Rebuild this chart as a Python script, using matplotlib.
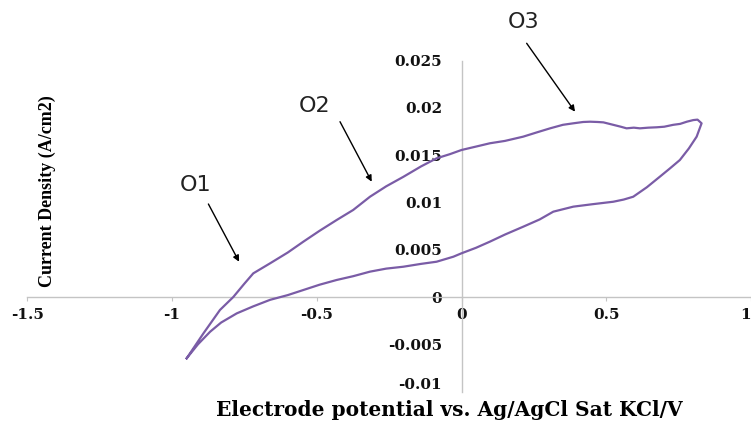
import matplotlib
matplotlib.use("Agg")
import matplotlib.pyplot as plt
import numpy as np

# forward (anodic) sweep, from the negative tip up to the turning point
fwd_x = [-0.949, -0.891, -0.834, -0.788, -0.75, -0.719, -0.661, -0.60, -0.546, -0.49,
         -0.431, -0.374, -0.316, -0.26, -0.201, -0.14, -0.086, -0.04, 0.0, 0.05,
         0.098, 0.15, 0.213, 0.26, 0.306, 0.35, 0.386, 0.42, 0.444, 0.47,
         0.490, 0.524, 0.55, 0.570, 0.595, 0.616, 0.645, 0.674, 0.70, 0.731,
         0.755, 0.778, 0.800, 0.815, 0.829]
fwd_y = [-0.00648, -0.00384, -0.00137, 0.0, 0.0014, 0.0025, 0.00356, 0.0047, 0.00585, 0.0070,
         0.00814, 0.0092, 0.0106, 0.0117, 0.0127, 0.0138, 0.01466, 0.0151, 0.01554, 0.0159,
         0.01625, 0.0165, 0.01695, 0.0174, 0.01783, 0.0182, 0.01836, 0.0185, 0.01853, 0.0185,
         0.01846, 0.0182, 0.0180, 0.01783, 0.0179, 0.01783, 0.0179, 0.01794, 0.0180, 0.0182,
         0.0183, 0.01853, 0.0187, 0.01875, 0.01836]
# reverse sweep, from the turning point back down to the negative tip
rev_x = [0.829, 0.812, 0.785, 0.754, 0.72, 0.685, 0.64, 0.593, 0.56, 0.524,
         0.45, 0.386, 0.317, 0.27, 0.213, 0.15, 0.098, 0.05, 0.0, -0.028,
         -0.086, -0.14, -0.201, -0.26, -0.316, -0.374, -0.431, -0.49, -0.546, -0.60,
         -0.661, -0.72, -0.776, -0.83, -0.868, -0.91, -0.949]
rev_y = [0.01836, 0.01695, 0.0157, 0.01448, 0.0136, 0.01272, 0.0116, 0.0106, 0.0103, 0.01007,
         0.0098, 0.00955, 0.00902, 0.0082, 0.00743, 0.0066, 0.00585, 0.0052, 0.00462, 0.00426,
         0.00373, 0.0035, 0.0032, 0.0030, 0.00268, 0.0022, 0.0018, 0.0013, 0.00074, 0.0002,
         -0.0003, -0.0010, -0.00173, -0.0027, -0.00367, -0.0050, -0.00648]

x_ticks = [-1.5, -1.0, -0.5, 0.0, 0.5, 1.0]
x_tick_labels = ["-1.5", "-1", "-0.5", "0", "0.5", "1"]
y_ticks = [-0.01, -0.005, 0.0, 0.005, 0.01, 0.015, 0.02, 0.025]
y_tick_labels = ["-0.01", "-0.005", "0", "0.005", "0.01", "0.015", "0.02", "0.025"]

# annotations: label, text position, arrow start, arrow tip (data coords)
ann_labels = ["O1", "O2", "O3"]
ann_text_xy = [(-0.920, 0.01184), (-0.506, 0.02019), (0.214, 0.0291)]
ann_start_xy = [(-0.874, 0.00983), (-0.4195, 0.01853), (0.225, 0.02682)]
ann_tip_xy = [(-0.768, 0.00373), (-0.310, 0.01219), (0.392, 0.01959)]

fig = plt.figure(figsize=(7.51, 4.21), dpi=100)
ax = fig.add_axes([27.1 / 751, 1 - 391.6 / 421, 724 / 751, 331.1 / 421])

xs = fwd_x + rev_x[1:]
ys = fwd_y + rev_y[1:]
ax.plot(xs, ys, color="#7a5ca6", lw=1.6, solid_joinstyle="round", zorder=3)

ax.set_xlim(-1.5, 1.0)
ax.set_ylim(-0.01, 0.025)
ax.patch.set_alpha(0)

for s in ["top", "right"]:
    ax.spines[s].set_visible(False)
for s in ["left", "bottom"]:
    ax.spines[s].set_position(("data", 0))
    ax.spines[s].set_color("#c4c4c4")
    ax.spines[s].set_linewidth(1.0)

ax.set_xticks(x_ticks)
ax.set_xticklabels(x_tick_labels)
ax.set_yticks(y_ticks)
ax.set_yticklabels(y_tick_labels)

for lab in ax.get_xticklabels() + ax.get_yticklabels():
    lab.set_fontfamily("DejaVu Serif")
    lab.set_fontweight("bold")
    lab.set_fontsize(11)
    lab.set_color("#111111")
ax.get_xticklabels()[-1].set_horizontalalignment("right")
ax.get_yticklabels()[0].set_verticalalignment("bottom")
ax.tick_params(axis="x", length=3, color="#c4c4c4", pad=5, direction="out")
ax.tick_params(axis="y", length=0, pad=14)

for lab, txy, sxy, exy in zip(ann_labels, ann_text_xy, ann_start_xy, ann_tip_xy):
    ax.text(txy[0], txy[1], lab, fontsize=16, family="DejaVu Sans",
            color="#222222", ha="center", va="center", clip_on=False)
    ax.annotate("", xy=exy, xytext=sxy,
                arrowprops=dict(arrowstyle="-|>", color="black", lw=1.0,
                                mutation_scale=9, shrinkA=0, shrinkB=0),
                annotation_clip=False)

fig.text(47 / 751, 1 - 191 / 421, "Current Density (A/cm2)", rotation=90,
         family="Liberation Serif", weight="bold", fontsize=13,
         ha="center", va="center")
fig.text(449.5 / 751, 1 - 416 / 421, "Electrode potential vs. Ag/AgCl Sat KCl/V",
         family="DejaVu Serif", weight="bold", fontsize=14.5,
         ha="center", va="baseline")

fig.savefig("out.png", dpi=100)
